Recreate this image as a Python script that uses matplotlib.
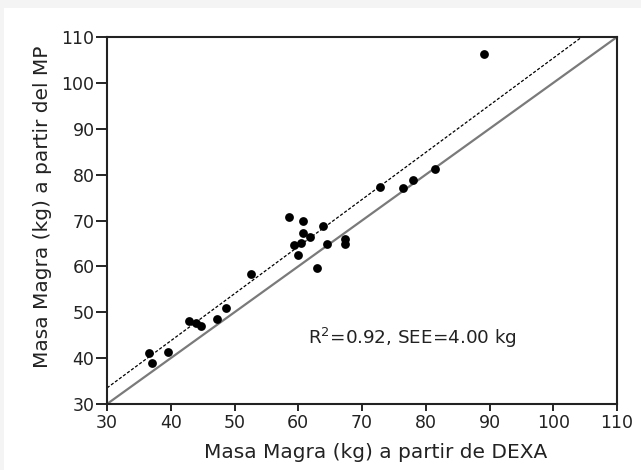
import matplotlib
matplotlib.use("Agg")
import matplotlib.pyplot as plt
from matplotlib.patches import Rectangle
import numpy as np

plt.rcParams['font.family'] = ['DejaVu Sans']

dexa = [89.2, 81.4, 78.0, 76.5, 72.9, 58.5, 60.7, 63.9, 60.8, 61.9, 67.3, 67.4,
        64.5, 60.4, 59.3, 59.9, 62.9, 52.6, 48.7, 47.2, 42.8, 43.9, 44.7, 36.6,
        39.6, 37.0]
mp = [106.3, 81.2, 78.9, 77.0, 77.2, 70.7, 69.8, 68.7, 67.2, 66.3, 66.0, 64.9,
      64.8, 65.0, 64.7, 62.4, 59.6, 58.3, 50.9, 48.6, 48.1, 47.6, 46.9, 41.1,
      41.4, 38.9]

reg_intercept_at_30 = 33.5
reg_slope = 1.027
annot = "R$^{2}$=0.92, SEE=4.00 kg"
xlabel = "Masa Magra (kg) a partir de DEXA"
ylabel = "Masa Magra (kg) a partir del MP"
ticks = [30, 40, 50, 60, 70, 80, 90, 100, 110]

fig = plt.figure(figsize=(6.41, 4.70), dpi=100)
fig.patch.set_facecolor('#f4f4f4')
bg = Rectangle((4/641, 0), 1, 1 - 8/470, transform=fig.transFigure,
               facecolor='white', edgecolor='none', zorder=-10)
fig.add_artist(bg)

ax = fig.add_axes([107/641, 1 - 404/470, (617 - 107)/641, (404 - 37)/470])
ax.set_zorder(1)
ax.patch.set_alpha(0)
ax.set_xlim(30, 110)
ax.set_ylim(30, 110)

ax.plot([30, 110], [30, 110], color='#7a7a7a', lw=1.6, zorder=2)
xr = np.array([30, 110])
yr = reg_intercept_at_30 + reg_slope * (xr - 30)
ax.plot(xr, yr, color='black', lw=0.9, ls=(0, (2.5, 1.5)), zorder=2)

ax.scatter(dexa, mp, s=40, color='black', zorder=3, linewidths=0)

ax.text(61.6, 44.4, annot, fontsize=13.2, va='center', ha='left', color='#222222')

ax.set_xticks(ticks)
ax.set_yticks(ticks)
ax.tick_params(axis='x', direction='out', length=5, width=1.2, labelsize=12.5, pad=2,
               colors='black', labelcolor='#222222')
ax.tick_params(axis='y', direction='out', length=8, width=1.2, labelsize=12.5, pad=1,
               colors='black', labelcolor='#222222')
for s in ax.spines.values():
    s.set_linewidth(1.5)
    s.set_color('#222222')

ax.set_xlabel(xlabel, fontsize=14.5, color='#222222')
ax.set_ylabel(ylabel, fontsize=14.5, color='#222222')
ax.xaxis.set_label_coords((376 - 107)/510, -(453 - 404)/367)
ax.xaxis.label.set_va('center')
ax.yaxis.set_label_coords(-(107 - 43)/510, (404 - 207)/367)
ax.yaxis.label.set_va('center')

fig.savefig("out.png", dpi=100, facecolor=fig.get_facecolor())
